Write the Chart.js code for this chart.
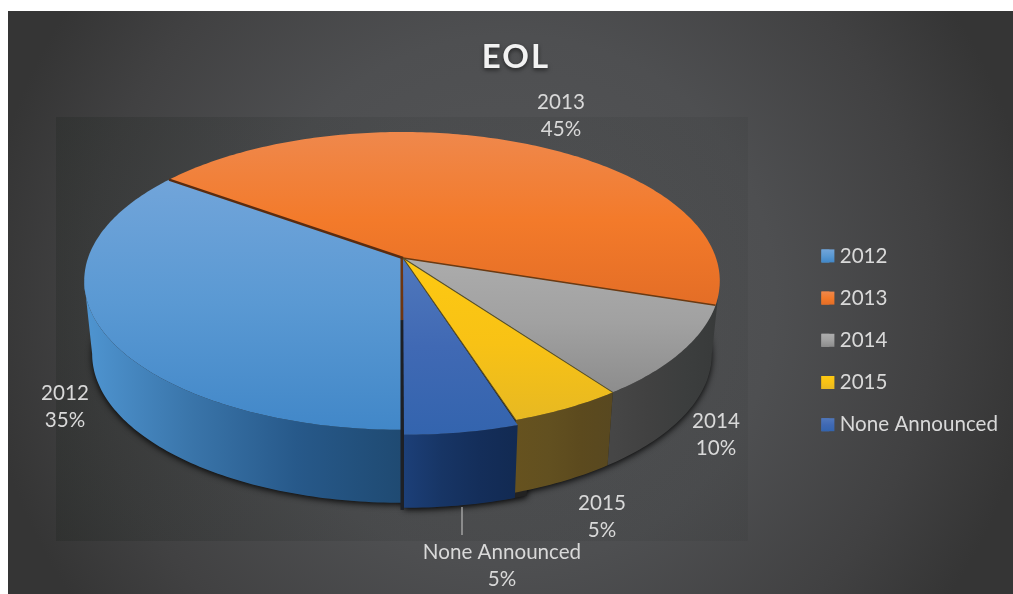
<!DOCTYPE html>
<html>
<head>
<meta charset="utf-8">
<title>EOL</title>
<style>
  html, body { margin: 0; padding: 0; background: #fff; }
  #wrap { position: relative; width: 1013px; height: 594px; }
</style>
<script src="https://cdn.jsdelivr.net/npm/chart.js@4/dist/chart.umd.js"></script>
</head>
<body>
<div id="wrap"><canvas id="c" width="1013" height="594"></canvas></div>
<script>
const categories = ['2012', '2013', '2014', '2015', 'None Announced'];
const shares = [35, 45, 10, 5, 5];
const chartTitle = 'EOL';
const legendColors = ['#5B9BD5', '#ED7D31', '#A5A5A5', '#FFC000', '#4472C4'];

// Vertical shading of each slice's top face, with the span it runs over
const topShades = [
  ['#72a5da', '#5a99d3', '#4187c8'],
  ['#ef884c', '#f37a2a', '#e36d26'],
  ['#adadad', '#a1a1a1', '#8c8c8c'],
  ['#fdc912', '#f8c215', '#e6b823'],
  ['#5078bc', '#4069b4', '#3364ae']
];
const topSpans = [[175, 432], [132, 310], [250, 395], [262, 425], [258, 436]];
// Horizontal shading of each slice's outer wall
const wallShades = [
  ['#4f95d1', '#3a75aa', '#27598a', '#1f4a72'],
  ['#464646', '#414141', '#3c3e3e', '#383a3a'],
  ['#464646', '#414141', '#3c3e3e', '#383a3a'],
  ['#66521f', '#625020', '#5c4a1e', '#584820'],
  ['#1c3f78', '#173565', '#142e5a', '#122a52']
];
const edgeColors = ['#5a2c10', '#6b3a12', '#55502e', '#5a4e22'];

// Where each value label sits: centre x and the first line's mid-height
const labelCenters = [[65, 393], [561, 102], [716, 421], [602, 503], [502, 552]];
const labelLeading = 27.5;
const textFont = '20.6px Lato';

// Perspective view of the disc
const view = { cx: 402, cy: 258, rx: 314, ry: 145.4, k: 0.154, depth: 73, shrink: 0.025 };
const horizon = Math.asin(view.k);

function rim(a, z, off) {
  const X = Math.cos(a), Y = Math.sin(a), d = 1 - view.k * Y;
  const s = 1 - view.shrink * z;
  return {
    x: view.cx + view.rx * X / d * s + (off ? off.x : 0),
    y: view.cy + view.ry * Y / d + view.depth * z + (off ? off.y : 0)
  };
}

function rimPath(ctx, a0, a1, z, off, first) {
  const n = Math.max(4, Math.ceil(Math.abs(a1 - a0) * 60));
  for (let i = 0; i <= n; i++) {
    const p = rim(a0 + (a1 - a0) * i / n, z, off);
    if (i === 0 && first) ctx.moveTo(p.x, p.y); else ctx.lineTo(p.x, p.y);
  }
}

function stopsGradient(g, colors) {
  colors.forEach((c, i) => g.addColorStop(i / (colors.length - 1), c));
  return g;
}

// Outer wall of a slice, limited to the part of the rim that faces the viewer
function drawWall(ctx, a0, a1, i, off) {
  const xs = [rim(a0, 0, off).x, rim(a1, 0, off).x];
  const g = ctx.createLinearGradient(Math.min(...xs), 0, Math.max(...xs), 0);
  ctx.fillStyle = stopsGradient(g, wallShades[i]);
  ctx.beginPath();
  rimPath(ctx, a0, a1, 0, off, true);
  rimPath(ctx, a1, a0, 1, off, false);
  ctx.closePath();
  ctx.fill();
}

function drawTop(ctx, el, i, off) {
  const g = ctx.createLinearGradient(0, topSpans[i][0], 0, topSpans[i][1]);
  ctx.fillStyle = stopsGradient(g, topShades[i]);
  ctx.beginPath();
  ctx.moveTo(view.cx + 1, view.cy);
  rimPath(ctx, el.startAngle, el.endAngle, 0, off, false);
  ctx.closePath();
  ctx.fill();
}

function drawEdge(ctx, a, color, width, off) {
  const p = rim(a, 0, off);
  ctx.strokeStyle = color;
  ctx.lineWidth = width;
  ctx.beginPath();
  ctx.moveTo(view.cx + 1, view.cy);
  ctx.lineTo(p.x, p.y);
  ctx.stroke();
}

const disc3d = {
  id: 'disc3d',
  beforeDraw(chart) {
    const ctx = chart.ctx;
    ctx.save();
    const bg = ctx.createRadialGradient(510, 300, 0, 510, 300, 530);
    bg.addColorStop(0, '#555658');
    bg.addColorStop(0.5, '#4e4f51');
    bg.addColorStop(0.8, '#414142');
    bg.addColorStop(1, '#353535');
    ctx.fillStyle = bg;
    ctx.fillRect(8, 11, 1005, 583);
    const plot = ctx.createLinearGradient(56, 0, 748, 0);
    plot.addColorStop(0, 'rgba(20,28,22,0.2)');
    plot.addColorStop(0.5, 'rgba(20,26,24,0.09)');
    plot.addColorStop(1, 'rgba(20,26,24,0.07)');
    ctx.fillStyle = plot;
    ctx.fillRect(56, 117, 692, 424);
    ctx.restore();
  },
  beforeDatasetsDraw(chart) {
    const ctx = chart.ctx;
    const arcs = chart.getDatasetMeta(0).data;
    const lift = { x: 2, y: 5 };
    ctx.save();
    ctx.lineJoin = 'round';

    // Soft shadow under the whole disc
    ctx.save();
    ctx.shadowColor = 'rgba(0,0,0,0.85)';
    ctx.shadowBlur = 6;
    ctx.shadowOffsetY = 2;
    ctx.shadowOffsetX = 0;
    ctx.fillStyle = '#222';
    ctx.beginPath();
    rimPath(ctx, 0, Math.PI * 2, 1, null, true);
    ctx.closePath();
    ctx.fill();
    ctx.beginPath();
    rimPath(ctx, Math.PI / 2 - 0.35, Math.PI / 2, 1, lift, true);
    rimPath(ctx, Math.PI / 2, Math.PI / 2 - 0.35, 0, lift, false);
    ctx.closePath();
    ctx.fill();
    ctx.restore();

    // Walls: the first slice runs to the left silhouette, the third from the right one
    drawWall(ctx, arcs[0].startAngle, Math.min(arcs[0].endAngle, Math.PI - horizon), 0);
    drawWall(ctx, horizon + Math.PI * 2, arcs[2].endAngle, 2);
    drawWall(ctx, arcs[3].startAngle, arcs[3].endAngle, 3);

    [1, 0, 2, 3].forEach(i => drawTop(ctx, arcs[i], i));

    // Exposed inner face where the last slice pulls away from the first
    const front = rim(Math.PI / 2, 1, lift);
    const innerBottom = view.cy + view.depth * 0.85;
    ctx.fillStyle = '#6e3612';
    ctx.fillRect(view.cx - 1.5, view.cy, 3.5, innerBottom - view.cy);
    ctx.fillStyle = '#1d2026';
    ctx.fillRect(view.cx - 1.5, innerBottom, 3.5, front.y - innerBottom + 2);

    drawWall(ctx, arcs[4].startAngle, arcs[4].endAngle, 4, lift);
    drawTop(ctx, arcs[4], 4, lift);

    drawEdge(ctx, arcs[1].startAngle, edgeColors[0], 2.4);
    drawEdge(ctx, arcs[2].startAngle, edgeColors[1], 1.6);
    drawEdge(ctx, arcs[3].startAngle, edgeColors[2], 1.1);
    drawEdge(ctx, arcs[4].startAngle, edgeColors[3], 1.1);
    ctx.restore();
    return false;
  },
  afterDraw(chart) {
    const ctx = chart.ctx;
    const total = shares.reduce((a, b) => a + b, 0);
    ctx.save();

    // Full-width shaded legend swatches
    chart.legend.legendHitBoxes.forEach((hb, i) => {
      const y = hb.top + hb.height / 2 - 6.5;
      const g = ctx.createLinearGradient(0, y, 0, y + 13);
      ctx.fillStyle = stopsGradient(g, topShades[i]);
      ctx.fillRect(hb.left, y, 13, 13);
    });

    // Leader line for the label that sits away from its slice
    ctx.strokeStyle = '#b8b8b8';
    ctx.lineWidth = 1.2;
    ctx.beginPath();
    ctx.moveTo(462, 507);
    ctx.lineTo(462, 535);
    ctx.stroke();

    ctx.fillStyle = '#d9d9d9';
    ctx.font = textFont;
    ctx.textAlign = 'center';
    ctx.textBaseline = 'middle';
    categories.forEach((name, i) => {
      const [x, y] = labelCenters[i];
      ctx.fillText(name, x, y);
      ctx.fillText(Math.round(shares[i] / total * 100) + '%', x, y + labelLeading);
    });
    ctx.restore();
  },
  afterLayout(chart) {
    // Spaced, softly shadowed title
    const block = chart.titleBlock;
    if (block && !block.__spaced) {
      const draw = block.draw.bind(block);
      block.draw = function () {
        const ctx = chart.ctx;
        ctx.save();
        ctx.letterSpacing = '2px';
        ctx.shadowColor = 'rgba(0,0,0,0.55)';
        ctx.shadowBlur = 4;
        ctx.shadowOffsetY = 2;
        draw();
        ctx.restore();
      };
      block.__spaced = true;
    }
  }
};

new Chart(document.getElementById('c'), {
  type: 'pie',
  data: {
    labels: categories,
    datasets: [{ data: shares, backgroundColor: legendColors, borderWidth: 0 }]
  },
  plugins: [disc3d],
  options: {
    responsive: false,
    animation: false,
    rotation: 180,
    layout: { padding: { left: 24, right: 5, top: 38, bottom: 0 } },
    plugins: {
      tooltip: { enabled: false },
      title: {
        display: true,
        text: chartTitle,
        color: '#f2f2f2',
        font: { family: 'Lato', size: 33, weight: 'bold' },
        padding: { top: 0, bottom: 9 }
      },
      legend: {
        position: 'right',
        fullSize: false,
        labels: {
          color: '#d9d9d9',
          font: { family: 'Lato', size: 20.6 },
          boxWidth: 8,
          boxHeight: 13,
          padding: 21.6
        }
      }
    }
  }
});
</script>
</body>
</html>
